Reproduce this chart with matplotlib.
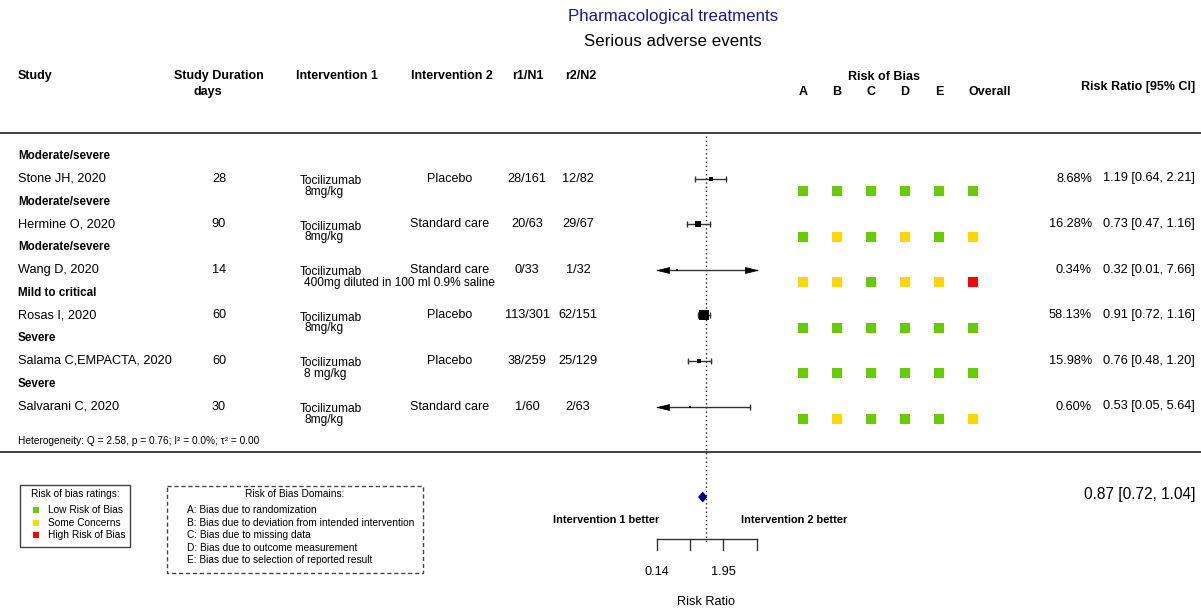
import matplotlib
matplotlib.use('Agg')
import matplotlib.pyplot as plt
from matplotlib.patches import Rectangle

plt.rcParams['font.family'] = ['Liberation Sans', 'DejaVu Sans']

# ---------------- data ----------------
title = 'Pharmacological treatments'
subtitle = 'Serious adverse events'
subgroups = ['Moderate/severe', 'Moderate/severe', 'Moderate/severe',
             'Mild to critical', 'Severe', 'Severe']
studies = ['Stone JH, 2020', 'Hermine O, 2020', 'Wang D, 2020',
           'Rosas I, 2020', 'Salama C,EMPACTA, 2020', 'Salvarani C, 2020']
durations = ['28', '90', '14', '60', '60', '30']
int1_drug = ['Tocilizumab'] * 6
int1_dose = ['8mg/kg', '8mg/kg', '400mg diluted in 100 ml 0.9% saline',
             '8mg/kg', '8 mg/kg', '8mg/kg']
int2 = ['Placebo', 'Standard care', 'Standard care', 'Placebo', 'Placebo',
        'Standard care']
r1n1 = ['28/161', '20/63', '0/33', '113/301', '38/259', '1/60']
r2n2 = ['12/82', '29/67', '1/32', '62/151', '25/129', '2/63']
rr = [1.19, 0.73, 0.32, 0.91, 0.76, 0.53]
ci_lo = [0.64, 0.47, 0.01, 0.72, 0.48, 0.05]
ci_hi = [2.21, 1.16, 7.66, 1.16, 1.20, 5.64]
weights = [8.68, 16.28, 0.34, 58.13, 15.98, 0.60]
rob = [list('LLLLLL'), list('LSLSLS'), list('SSLSSH'),
       list('LLLLLL'), list('LLLLLL'), list('LSLLLS')]
rob_domains = ['A', 'B', 'C', 'D', 'E', 'Overall']
pooled_rr, pooled_lo, pooled_hi = 0.87, 0.72, 1.04
heterogeneity = 'Heterogeneity: Q = 2.58, p = 0.76; I² = 0.0%; τ² = 0.00'
axis_ticks = [0.14, 0.52, 1.95, 7.26]
axis_tick_labels = ['0.14', '', '1.95', '']
rob_levels = ['Low Risk of Bias', 'Some Concerns', 'High Risk of Bias']
rob_level_keys = ['L', 'S', 'H']
domain_desc = ['A: Bias due to randomization',
               'B: Bias due to deviation from intended intervention',
               'C: Bias due to missing data',
               'D: Bias due to outcome measurement',
               'E: Bias due to selection of reported result']

# ---------------- style ----------------
rob_colors = {'L': '#66CC00', 'S': '#FFD700', 'H': '#FF0000'}
W, H = 1201, 610
PT = 0.72  # points per pixel at 100 dpi
line_col = '#333333'

fig = plt.figure(figsize=(W / 100, H / 100), dpi=100)
ax = fig.add_axes([0, 0, 1, 1])
ax.set_xlim(0, W)
ax.set_ylim(H, 0)
ax.axis('off')

# titles
ax.text(673, 17, title, ha='center', va='center', fontsize=12.2, color='#1a1a8c')
ax.text(673, 41, subtitle, ha='center', va='center', fontsize=12.2, color='black')

# headers
hb = dict(fontsize=9, fontweight='bold', va='center')
ax.text(18, 76, 'Study', ha='left', **hb)
ax.text(219, 76, 'Study Duration', ha='center', **hb)
ax.text(208, 92, 'days', ha='center', **hb)
ax.text(337, 76, 'Intervention 1', ha='center', **hb)
ax.text(452, 76, 'Intervention 2', ha='center', **hb)
ax.text(528, 76, 'r1/N1', ha='center', **hb)
ax.text(581, 76, 'r2/N2', ha='center', **hb)
ax.text(884, 77, 'Risk of Bias', ha='center', **hb)
ax.text(1195, 87, 'Risk Ratio [95% CI]', ha='right', **hb)

# rules
ax.plot([0, W], [133, 133], color=line_col, lw=1.3)
ax.plot([0, W], [452, 452], color=line_col, lw=1.3)

row0, step = 178.5, 45.6
rows_y = [row0 + step * i for i in range(len(studies))]

for i, y in enumerate(rows_y):
    ax.text(18, y - 22.5, subgroups[i], ha='left', va='center', fontsize=8.4,
            fontweight='bold')
    ax.text(18, y, studies[i], ha='left', va='center', fontsize=9.2)
    ax.text(219, y, durations[i], ha='center', va='center', fontsize=9.2)
    ax.text(300, y + 2.5, int1_drug[i], ha='left', va='center', fontsize=8.6)
    ax.text(304.5, y + 13, int1_dose[i], ha='left', va='center', fontsize=8.6)
    ax.text(450, y, int2[i], ha='center', va='center', fontsize=9)
    ax.text(527, y, r1n1[i], ha='center', va='center', fontsize=9.2)
    ax.text(578, y, r2n2[i], ha='center', va='center', fontsize=9.2)
    ax.text(1092, y, f'{weights[i]:.2f}%', ha='right', va='center', fontsize=9.2)
    ax.text(1195, y, f'{rr[i]:.2f} [{ci_lo[i]:.2f}, {ci_hi[i]:.2f}]',
            ha='right', va='center', fontsize=9.2)

ax.text(18, 441, heterogeneity, ha='left', va='center', fontsize=7.3)

# pooled
y_sum = 497
ax.text(1195, y_sum - 2, f'{pooled_rr:.2f} [{pooled_lo:.2f}, {pooled_hi:.2f}]',
        ha='right', va='center', fontsize=11.2)

# ---------------- forest axes ----------------
xmin, xmax = axis_ticks[0], axis_ticks[-1]
fx = fig.add_axes([656.5 / W, 0, 100 / W, 1])
fx.set_xscale('log')
fx.set_xlim(xmin, xmax)
fx.set_ylim(H, 0)
fx.axis('off')

fx.plot([1, 1], [136, 543], color='#222222', lw=1, ls=(0, (1, 2)))

left_head = [(0, 0), (1, 0.25), (1, -0.25), (0, 0)]
right_head = [(0, 0), (-1, 0.25), (-1, -0.25), (0, 0)]

for i, y in enumerate(rows_y):
    lo_c = max(ci_lo[i], xmin)
    hi_c = min(ci_hi[i], xmax)
    fx.plot([lo_c, hi_c], [y, y], color=line_col, lw=1, clip_on=False)
    if ci_lo[i] < xmin:
        fx.plot(xmin, y, marker=left_head, ms=24 * PT, color='black', mew=0.5,
                clip_on=False)
    else:
        fx.plot(ci_lo[i], y, marker='|', ms=6 * PT, mew=1, color=line_col,
                clip_on=False)
    if ci_hi[i] > xmax:
        fx.plot(xmax, y, marker=right_head, ms=24 * PT, color='black', mew=0.5,
                clip_on=False)
    else:
        fx.plot(ci_hi[i], y, marker='|', ms=6 * PT, mew=1, color=line_col,
                clip_on=False)
    side = max(2.5, 1.25 * weights[i] ** 0.5)
    fx.plot(rr[i], y, marker='s', ms=side * PT, color='black', mew=0,
            clip_on=False)

# pooled diamond
fx.fill([pooled_lo, pooled_rr, pooled_hi, pooled_rr],
        [y_sum, y_sum - 5.5, y_sum, y_sum + 5.5], color='#00008B', lw=0,
        clip_on=False)

# x axis bracket
fx.plot([xmin, xmax], [539, 539], color=line_col, lw=1, clip_on=False)
for t, lab in zip(axis_ticks, axis_tick_labels):
    fx.plot([t, t], [539, 550], color=line_col, lw=1, clip_on=False)
    if lab:
        fx.text(t, 572, lab, ha='center', va='center', fontsize=9.2)

ax.text(706, 602, 'Risk Ratio', ha='center', va='center', fontsize=9.2)
ax.text(606, 520, 'Intervention 1 better', ha='center', va='center',
        fontsize=7.9, fontweight='bold')
ax.text(794, 520, 'Intervention 2 better', ha='center', va='center',
        fontsize=7.9, fontweight='bold')

# ---------------- risk of bias axes ----------------
rx = fig.add_axes([786 / W, 0, 204 / W, 1])
rx.set_xlim(-0.5, len(rob_domains) - 0.5)
rx.set_ylim(H, 0)
rx.axis('off')
for j, d in enumerate(rob_domains):
    if d == 'Overall':
        rx.text(j - 0.12, 92, d, ha='left', va='center', fontsize=9,
                fontweight='bold')
    else:
        rx.text(j, 92, d, ha='center', va='center', fontsize=9,
                fontweight='bold')
for i, y in enumerate(rows_y):
    for j, lev in enumerate(rob[i]):
        rx.scatter(j, y + 12.5, marker='s', s=(10 * PT) ** 2,
                   color=rob_colors[lev], linewidths=0, clip_on=False)

# ---------------- legends ----------------
ax.add_patch(Rectangle((20, 485), 110, 62, fill=False, ec='#444444', lw=1))
ax.text(75, 494, 'Risk of bias ratings:', ha='center', va='center', fontsize=7.3)
for k, (key, lab) in enumerate(zip(rob_level_keys, rob_levels)):
    yy = 510 + 12.5 * k
    ax.scatter(35.5, yy, marker='s', s=(5.5 * PT) ** 2, color=rob_colors[key],
               linewidths=0)
    ax.text(48, yy, lab, ha='left', va='center', fontsize=7.3)

ax.add_patch(Rectangle((167, 486), 256, 87, fill=False, ec='#444444', lw=1,
                       ls=(0, (3, 2))))
ax.text(295, 494, 'Risk of Bias Domains:', ha='center', va='center', fontsize=7.3)
for k, lab in enumerate(domain_desc):
    ax.text(187, 510 + 12.6 * k, lab, ha='left', va='center', fontsize=7.3)

fig.savefig('out.png', dpi=100)
